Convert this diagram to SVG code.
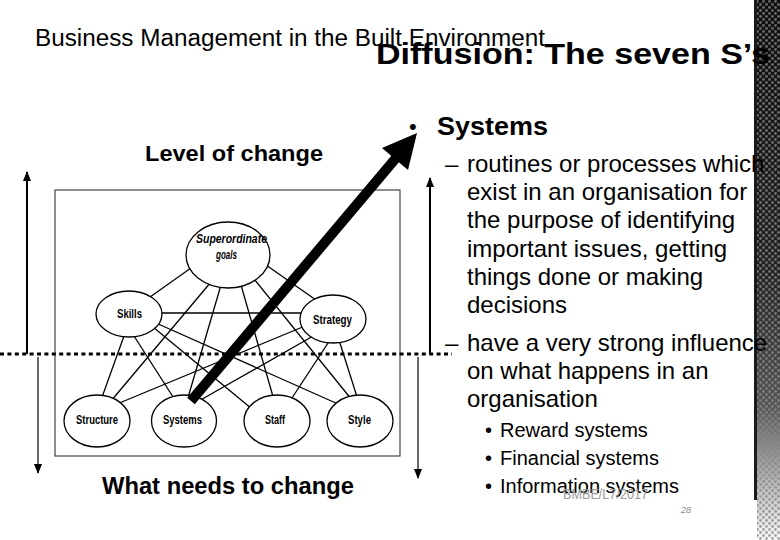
<svg xmlns="http://www.w3.org/2000/svg" width="780" height="540" viewBox="0 0 780 540">
<defs>
<style>
text{font-family:"Liberation Sans",Arial,sans-serif;fill:#000}
.b{font-weight:bold}
.body{font-size:24px}
.sub{font-size:20px}
.nl{font-size:12px;font-weight:bold}
.conn line{stroke:#000;stroke-width:1.3}
.node ellipse{fill:#fff;stroke:#000;stroke-width:1.3}
.scale{stroke:#000;fill:none}
</style>
<linearGradient id="sg" x1="0" y1="0" x2="0" y2="1">
<stop offset="0" stop-color="#0d0d0d"/>
<stop offset="0.5" stop-color="#222"/>
<stop offset="0.75" stop-color="#555"/>
<stop offset="0.9" stop-color="#bbb"/>
<stop offset="1" stop-color="#fafafa"/>
</linearGradient>
<pattern id="dots" width="6" height="6" patternUnits="userSpaceOnUse">
<circle cx="1.5" cy="1.5" r="1.4" fill="#888"/>
<circle cx="4.5" cy="4.5" r="1.4" fill="#888"/>
</pattern>
<marker id="ah" viewBox="0 0 10 8" refX="9" refY="4" markerWidth="10" markerHeight="8" markerUnits="userSpaceOnUse" orient="auto">
<path d="M0,0 L10,4 L0,8 Z" fill="#000"/>
</marker>
</defs>
<rect width="780" height="540" fill="#fff"/>

<!-- decorative right strip -->
<g id="strip">
<rect x="757" y="0" width="23" height="540" fill="url(#sg)"/>
<rect x="757" y="0" width="23" height="540" fill="url(#dots)" opacity="0.75"/>
<rect x="754" y="0" width="3" height="500" fill="#1a1a1a"/>
</g>

<!-- header -->
<text x="35" y="46" font-size="23" textLength="510" lengthAdjust="spacingAndGlyphs">Business  Management in the Built Environment</text>
<text x="376" y="64" font-size="30" class="b" textLength="394" lengthAdjust="spacingAndGlyphs">Diffusion: The seven S’s</text>

<!-- side labels -->
<text x="145" y="161" font-size="22" class="b" textLength="178" lengthAdjust="spacingAndGlyphs">Level of change</text>
<text x="102" y="494" font-size="23" class="b" textLength="252" lengthAdjust="spacingAndGlyphs">What needs to change</text>

<!-- frame around 7S model -->
<rect x="55" y="190" width="345" height="266" fill="none" stroke="#444" stroke-width="1.2"/>

<!-- scale arrows and dotted level line -->
<g id="scale">
<line class="scale" x1="27" y1="354" x2="27" y2="172" stroke-width="2" marker-end="url(#ah)"/>
<line class="scale" x1="38" y1="357" x2="38" y2="473" stroke-width="1.2" marker-end="url(#ah)"/>
<line class="scale" x1="430" y1="354" x2="430" y2="178" stroke-width="2" marker-end="url(#ah)"/>
<line class="scale" x1="418" y1="357" x2="418" y2="478" stroke-width="1.2" marker-end="url(#ah)"/>
<line x1="0" y1="354" x2="452" y2="354" stroke="#000" stroke-width="3.2" stroke-dasharray="4 3.4"/>
</g>

<!-- connectors -->
<g id="connectors" class="conn">
<line x1="150" y1="297" x2="191" y2="268"/>
<line x1="266" y1="265" x2="316" y2="300"/>
<line x1="211" y1="282" x2="111" y2="401"/>
<line x1="221" y1="285" x2="187" y2="401"/>
<line x1="241" y1="285" x2="274" y2="400"/>
<line x1="254" y1="279" x2="352" y2="400"/>
<line x1="160" y1="313" x2="303" y2="313"/>
<line x1="124" y1="336" x2="101" y2="400"/>
<line x1="134" y1="336" x2="175" y2="400"/>
<line x1="153" y1="327" x2="252" y2="409"/>
<line x1="156" y1="323" x2="338" y2="404"/>
<line x1="305" y1="326" x2="117" y2="404"/>
<line x1="315" y1="335" x2="197" y2="402"/>
<line x1="330" y1="340" x2="290" y2="401"/>
<line x1="339" y1="340" x2="358" y2="400"/>
</g>

<!-- nodes -->
<g id="node-goals" class="node">
<ellipse cx="228" cy="255" rx="42" ry="33"/>
<text x="196" y="243" font-size="13" font-style="italic" font-weight="bold" textLength="71" lengthAdjust="spacingAndGlyphs">Superordinate</text>
<text x="216" y="259" font-size="13" font-style="italic" font-weight="bold" textLength="21" lengthAdjust="spacingAndGlyphs">goals</text>
</g>
<g id="node-skills" class="node">
<ellipse cx="129" cy="314" rx="33" ry="23"/>
<text x="117" y="318" class="nl" textLength="25" lengthAdjust="spacingAndGlyphs">Skills</text>
</g>
<g id="node-strategy" class="node">
<ellipse cx="333" cy="319" rx="33" ry="24"/>
<text x="313" y="324" class="nl" textLength="39" lengthAdjust="spacingAndGlyphs">Strategy</text>
</g>
<g id="node-structure" class="node">
<ellipse cx="97" cy="421" rx="33" ry="26"/>
<text x="76" y="424" class="nl" textLength="42" lengthAdjust="spacingAndGlyphs">Structure</text>
</g>
<g id="node-systems" class="node">
<ellipse cx="184" cy="421" rx="32.5" ry="26"/>
<text x="163" y="424" class="nl" textLength="39" lengthAdjust="spacingAndGlyphs">Systems</text>
</g>
<g id="node-staff" class="node">
<ellipse cx="277" cy="421" rx="33" ry="26"/>
<text x="265" y="424" class="nl" textLength="20" lengthAdjust="spacingAndGlyphs">Staff</text>
</g>
<g id="node-style" class="node">
<ellipse cx="360" cy="421" rx="33" ry="26"/>
<text x="348" y="424" class="nl" textLength="23" lengthAdjust="spacingAndGlyphs">Style</text>
</g>

<!-- thick diffusion arrow -->
<g id="diffusion-arrow">
<line x1="191" y1="401" x2="396" y2="158" stroke="#000" stroke-width="10"/>
<polygon points="417,133 408,170 382,148" fill="#000"/>
</g>

<!-- text column -->
<g id="text-column">
<text x="409" y="134" font-size="22">•</text>
<text x="437" y="135" font-size="26" class="b" textLength="111" lengthAdjust="spacingAndGlyphs">Systems</text>
<text x="445" y="172" class="body">–</text>
<text x="467" y="172" class="body">routines or processes which</text>
<text x="467" y="200" class="body">exist in an organisation for</text>
<text x="467" y="228" class="body">the purpose of identifying</text>
<text x="467" y="257" class="body">important issues, getting</text>
<text x="467" y="285" class="body">things done or making</text>
<text x="467" y="313" class="body">decisions</text>
<text x="445" y="351" class="body">–</text>
<text x="467" y="351" class="body">have a very strong influence</text>
<text x="467" y="379" class="body">on what happens in an</text>
<text x="467" y="407" class="body">organisation</text>
<text x="485" y="437" class="sub">•</text>
<text x="500" y="437" class="sub">Reward systems</text>
<text x="485" y="465" class="sub">•</text>
<text x="500" y="465" class="sub">Financial systems</text>
<text x="485" y="493" class="sub">•</text>
<text x="500" y="493" class="sub">Information systems</text>
</g>

<!-- footer -->
<text x="563" y="499" font-size="15" style="fill:#9a9a9a" textLength="85" lengthAdjust="spacingAndGlyphs">BMBE/L7/2017</text>
<text x="681" y="513" font-size="9" font-style="italic" style="fill:#888">28</text>
</svg>
